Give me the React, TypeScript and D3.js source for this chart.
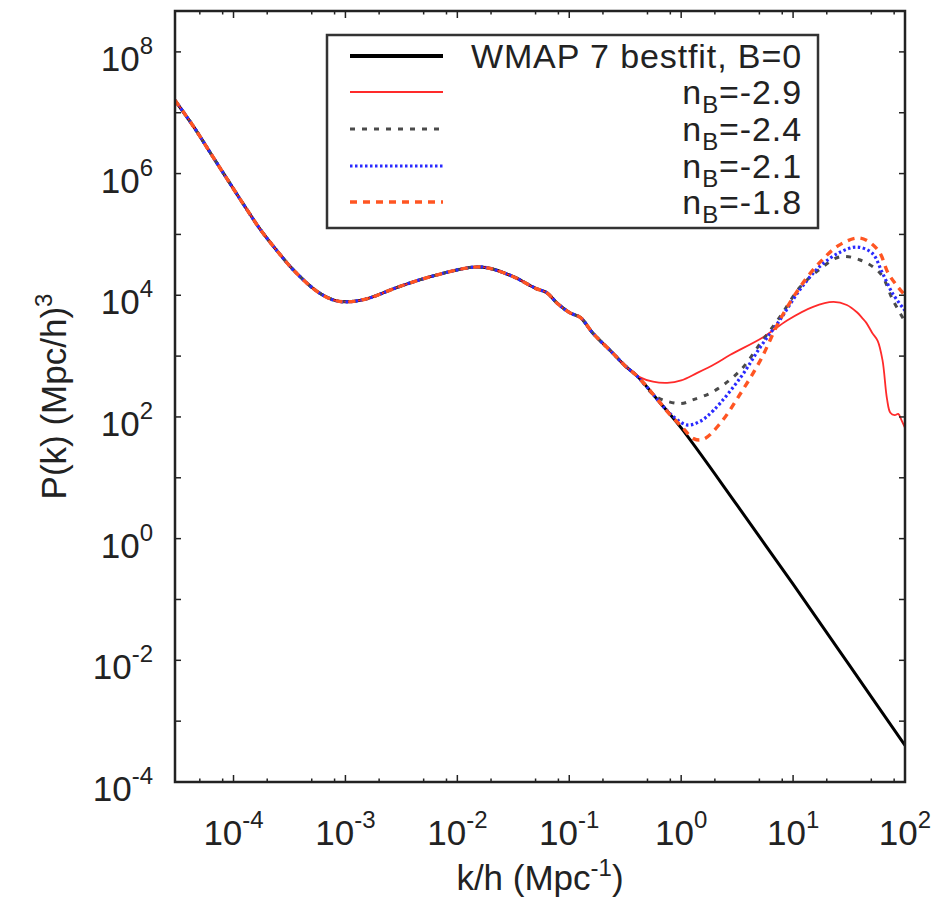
import React from 'react';
import * as d3 from 'd3';

// ---- data (k/h in Mpc^-1, P(k) in (Mpc/h)^3) ----
// part common to every curve (large scales)
const sharedK = [3.0e-5, 4.4e-5, 6.3e-5, 8.9e-5, 1.26e-4, 1.74e-4, 2.6e-4, 3.5e-4, 5.6e-4, 7.9e-4, 1.05e-3, 1.6e-3, 2.9e-3, 6.2e-3, 1.4e-2, 1.9e-2, 3.2e-2, 5.0e-2, 6.3e-2, 7.8e-2, 0.102, 0.126, 0.162, 0.245, 0.316];
const sharedP = [1.6e7, 5.9e6, 2.1e6, 7.8e5, 2.9e5, 1.2e5, 4.7e4, 2.5e4, 1.15e4, 8.3e3, 7.8e3, 8.9e3, 1.35e4, 2.1e4, 2.9e4, 2.8e4, 2.0e4, 1.3e4, 1.1e4, 7.4e3, 5.1e3, 4.3e3, 2.4e3, 1.12e3, 690];

// small-scale tails of each curve
const bestfitK = [0.41, 0.65, 1.0, 3.16, 10, 31.6, 100];
const bestfitP = [457, 170, 66, 3.55, 0.178, 8.5e-3, 4.0e-4];

const n29K = [0.43, 0.56, 0.75, 1.0, 1.38, 2.0, 2.75, 5.4, 8.9, 15.1, 22.9, 30.2, 37.2, 41.7, 45, 51, 57, 63, 69, 74, 81, 87, 93, 100];
const n29P = [447, 380, 363, 398, 525, 741, 1050, 2040, 3890, 6460, 7760, 6920, 5250, 4170, 3550, 2400, 1780, 850, 200, 117, 107, 112, 89, 66];

const n24K = [0.41, 0.56, 0.69, 1.0, 1.26, 1.95, 3.4, 5.1, 7.6, 11.5, 17.4, 26.3, 39.8, 60, 78, 100];
const n24P = [457, 234, 190, 166, 190, 263, 590, 1620, 4370, 1.35e4, 2.7e4, 4.3e4, 3.8e4, 2.3e4, 8.3e3, 3.7e3];

const n21K = [0.41, 0.65, 0.79, 1.12, 1.48, 1.95, 3.4, 5.1, 7.6, 11.5, 17.4, 26.3, 37.2, 51, 63, 78, 100];
const n21P = [457, 170, 115, 74, 85, 129, 447, 1410, 3890, 1.23e4, 3.0e4, 5.1e4, 6.2e4, 4.9e4, 2.3e4, 1.05e4, 5.6e3];

const n18K = [0.41, 0.65, 0.79, 1.0, 1.29, 1.58, 2.24, 3.4, 5.1, 7.6, 11.5, 17.4, 26.3, 39.8, 57.5, 70.8, 87, 100];
const n18P = [457, 170, 110, 71, 44, 43, 79, 245, 850, 3890, 1.35e4, 3.5e4, 6.8e4, 8.7e4, 5.5e4, 2.3e4, 1.35e4, 1.0e4];

const xTickExps = [-4, -3, -2, -1, 0, 1, 2];
const yTickExps = [-4, -3, -2, -1, 0, 1, 2, 3, 4, 5, 6, 7, 8];
const yLabelExps = [-4, -2, 0, 2, 4, 6, 8];
const minorMult = [2, 5, 8];

const legendLabels = ['WMAP 7 bestfit, B=0', '-2.9', '-2.4', '-2.1', '-1.8'];

const FONT = '"Liberation Sans", Arial, Helvetica, sans-serif';

const L = 175, R = 905, T = 11, B = 782;

export default function App() {
  const x = d3.scaleLog().domain([3e-5, 100]).range([L, R]);
  const y = d3.scaleLog().domain([1e-4, 4.7e8]).range([B, T]);

  const line = d3
    .line<[number, number]>()
    .x((d) => x(d[0]))
    .y((d) => y(d[1]))
    .curve(d3.curveCatmullRom.alpha(0.5));

  const zip = (k: number[], p: number[]) => k.map((v, i) => [v, p[i]] as [number, number]);
  const shared = zip(sharedK, sharedP);

  const series = [
    { pts: shared.concat(zip(bestfitK, bestfitP)), stroke: '#000', width: 3, dash: undefined as string | undefined },
    { pts: shared.concat(zip(n29K, n29P)), stroke: '#ff2a2a', width: 1.8, dash: undefined },
    { pts: shared.concat(zip(n24K, n24P)), stroke: '#4a4a4a', width: 3, dash: '5,7' },
    { pts: shared.concat(zip(n21K, n21P)), stroke: '#2a2aff', width: 3.2, dash: '2.5,2.5' },
    { pts: shared.concat(zip(n18K, n18P)), stroke: '#ff5522', width: 3.4, dash: '7,6' },
  ];

  const xMinor: number[] = [];
  for (let e = -5; e <= 1; e++) {
    for (const m of minorMult) {
      const v = m * Math.pow(10, e);
      if (v >= 3e-5 && v <= 100) xMinor.push(v);
    }
  }

  const legendRowY = [56, 92, 129, 166, 202];

  return (
    <svg width={944} height={900} style={{ position: 'absolute', left: 0, top: 0, background: '#fff' }} fontFamily={FONT}>
      <rect x={0} y={0} width={944} height={900} fill="#fff" />
      <defs>
        <clipPath id="plotclip">
          <rect x={L} y={T} width={R - L} height={B - T} />
        </clipPath>
      </defs>

      {/* curves */}
      <g clipPath="url(#plotclip)" fill="none">
        {series.map((s, i) => (
          <path key={i} d={line(s.pts) || ''} stroke={s.stroke} strokeWidth={s.width} strokeDasharray={s.dash} strokeLinejoin="round" />
        ))}
      </g>

      {/* ticks */}
      <g stroke="#222" strokeWidth={1.5}>
        {xTickExps.map((e) => {
          const px = x(Math.pow(10, e));
          return (
            <g key={'xt' + e}>
              <line x1={px} x2={px} y1={B} y2={B - 7} />
              <line x1={px} x2={px} y1={T} y2={T + 7} />
            </g>
          );
        })}
        {xMinor.map((v, i) => {
          const px = x(v);
          return (
            <g key={'xm' + i}>
              <line x1={px} x2={px} y1={B} y2={B - 3.5} />
              <line x1={px} x2={px} y1={T} y2={T + 3.5} />
            </g>
          );
        })}
        {yTickExps.map((e) => {
          const py = y(Math.pow(10, e));
          return (
            <g key={'yt' + e}>
              <line x1={L} x2={L + 6} y1={py} y2={py} />
              <line x1={R} x2={R - 6} y1={py} y2={py} />
            </g>
          );
        })}
      </g>

      {/* frame */}
      <rect x={L} y={T} width={R - L} height={B - T} fill="none" stroke="#222" strokeWidth={2.5} />

      {/* x tick labels */}
      <g fill="#222" fontSize={35}>
        {xTickExps.map((e) => (
          <text key={'xl' + e} x={x(Math.pow(10, e))} y={845} textAnchor="middle">
            <tspan>10</tspan>
            <tspan dy={-17} fontSize={24}>{String(e)}</tspan>
          </text>
        ))}
      </g>

      {/* y tick labels */}
      <g fill="#222" fontSize={35}>
        {yLabelExps.map((e) => (
          <text key={'yl' + e} x={153} y={y(Math.pow(10, e)) + 19} textAnchor="end">
            <tspan>10</tspan>
            <tspan dy={-17} fontSize={24}>{String(e)}</tspan>
          </text>
        ))}
      </g>

      {/* axis titles */}
      <text x={(L + R) / 2} y={890} textAnchor="middle" fontSize={35} fill="#222">
        <tspan>k/h (Mpc</tspan>
        <tspan dy={-14} fontSize={24}>-1</tspan>
        <tspan dy={14}>)</tspan>
      </text>
      <text transform={`translate(66,${(T + B) / 2}) rotate(-90)`} textAnchor="middle" fontSize={35} fill="#222">
        <tspan>P(k) (Mpc/h)</tspan>
        <tspan dy={-14} fontSize={24}>3</tspan>
      </text>

      {/* legend */}
      <rect x={327} y={35} width={491} height={193} fill="#fff" stroke="#333" strokeWidth={2.5} />
      {series.map((s, i) => (
        <line key={'ll' + i} x1={350} x2={443} y1={legendRowY[i]} y2={legendRowY[i]} stroke={s.stroke} strokeWidth={i === 0 ? 4 : s.width} strokeDasharray={s.dash} />
      ))}
      <g fill="#222" fontSize={34} letterSpacing={0.9}>
        {legendLabels.map((lab, i) =>
          i === 0 ? (
            <text key={'lt' + i} x={802} y={legendRowY[i] + 12} textAnchor="end">{lab}</text>
          ) : (
            <text key={'lt' + i} x={802} y={legendRowY[i] + 12} textAnchor="end">
              <tspan>n</tspan>
              <tspan dy={9} fontSize={24}>B</tspan>
              <tspan dy={-9}>{'=' + lab}</tspan>
            </text>
          )
        )}
      </g>
    </svg>
  );
}
